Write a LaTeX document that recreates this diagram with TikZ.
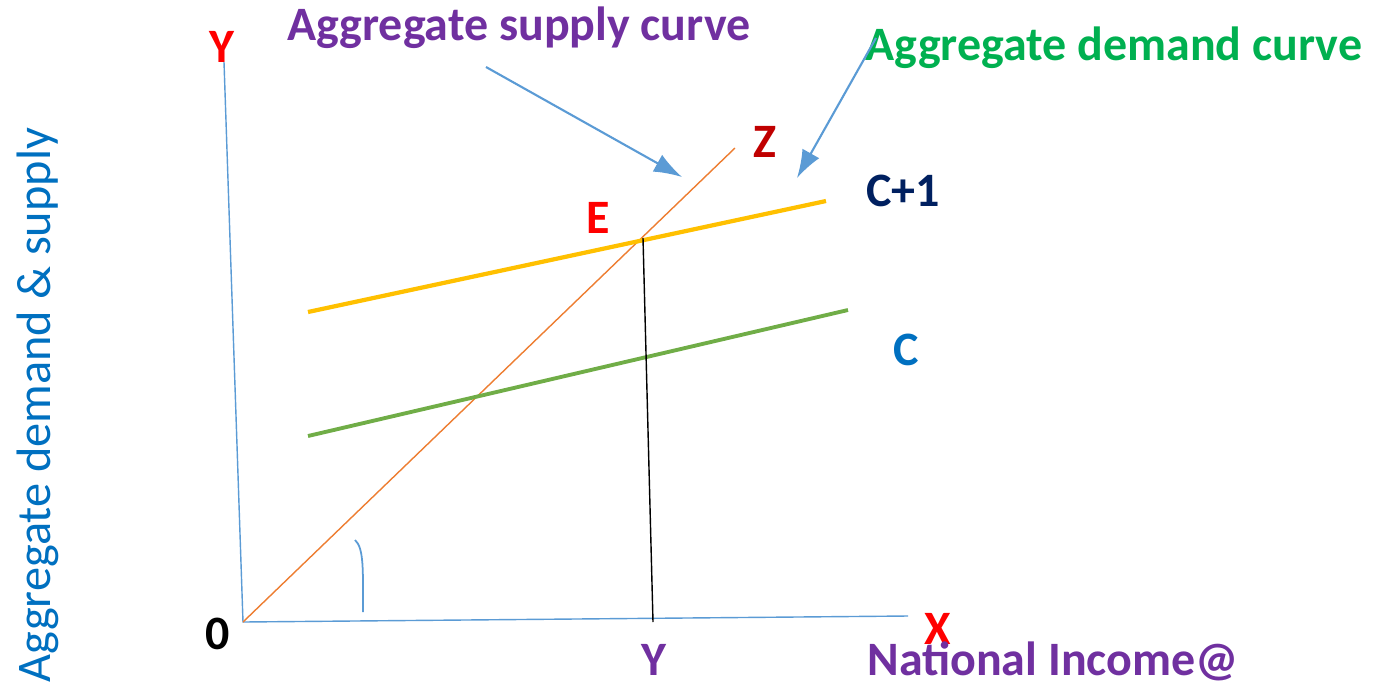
\documentclass[tikz,border=0pt]{standalone}
\usepackage{fontspec}
\setmainfont{Carlito}
\definecolor{axisblue}{HTML}{5B9BD5}
\definecolor{labelpurple}{HTML}{7030A0}
\definecolor{labelgreen}{HTML}{00B050}
\definecolor{darkred}{HTML}{C00000}
\definecolor{navy}{HTML}{002060}
\definecolor{textblue}{HTML}{0070C0}
\definecolor{supplyorange}{HTML}{ED7D31}
\definecolor{cyellow}{HTML}{FFC000}
\definecolor{cgreen}{HTML}{70AD47}
\tikzset{
  lbl/.style={font=\bfseries\fontsize{27.3}{32}\selectfont, inner sep=0pt},
  pointer/.style={draw=axisblue, line width=1.2pt, -{Latex[length=16pt,width=11pt]}}
}
\usetikzlibrary{arrows.meta}
\begin{document}
\begin{tikzpicture}[x=0.02cm, y=-0.02cm]
            \useasboundingbox (0,0) rectangle (1383,684);

            % Axes
            \coordinate (O) at (243,622);
            \coordinate (ytop) at (224,62);
            \coordinate (xend) at (908,616);
            \draw[axisblue, line width=0.8pt] (ytop) -- (O) -- (xend);

            % Aggregate supply (45 degree line)
            \coordinate (zend) at (735,148);
            \draw[supplyorange, line width=0.8pt] (O) -- (zend);

            % Consumption lines
            \coordinate (c1a) at (308,312);
            \coordinate (c1b) at (826,201);
            \draw[cyellow, line width=2.4pt] (c1a) -- (c1b);
            \coordinate (ca) at (308,436);
            \coordinate (cb) at (848,310);
            \draw[cgreen, line width=2.2pt] (ca) -- (cb);

            % Equilibrium drop line
            \coordinate (E) at (643,238);
            \coordinate (Ey) at (653,622);
            \draw[black, line width=0.8pt] (E) -- (Ey);

            % Angle mark
            \draw[axisblue, line width=1pt] (355,540) .. controls (364,548) and (363,570) .. (363,612);

            % Labels on axes
            \node[lbl, red] (ylbl) at (222,47) {Y};
            \node[lbl, red] (xlbl) at (938,629) {X};
            \node[lbl, black] (olbl) at (218,634) {0};
            \node[lbl, labelpurple] (yinc) at (654,660) {Y};
            \node[lbl, labelpurple] (natinc) at (1053,661) {National Income@};
            \node[font=\fontsize{27.5}{32}\selectfont, textblue, rotate=90, inner sep=0pt] (ylabel) at (38,405) {Aggregate demand \& supply};

            % Curve labels
            \node[lbl, darkred] (zlbl) at (765,142) {Z};
            \node[lbl, red] (elbl) at (598,218) {E};
            \node[lbl, navy] (c1lbl) at (903,191) {C+1};
            \node[lbl, textblue] (clbl) at (906,350) {C};
            \node[lbl, labelpurple] (aslbl) at (519,28) {Aggregate supply curve};
            \node[lbl, labelgreen] (adlbl) at (1114,48) {Aggregate demand curve};

            % Pointers
            \coordinate (asfrom) at (486,67);
            \coordinate (asto) at (682,177);
            \draw[pointer] (asfrom) -- (asto);
            \coordinate (adfrom) at (876,38);
            \coordinate (adto) at (797,178);
            \draw[pointer] (adfrom) -- (adto);
\end{tikzpicture}
\end{document}
